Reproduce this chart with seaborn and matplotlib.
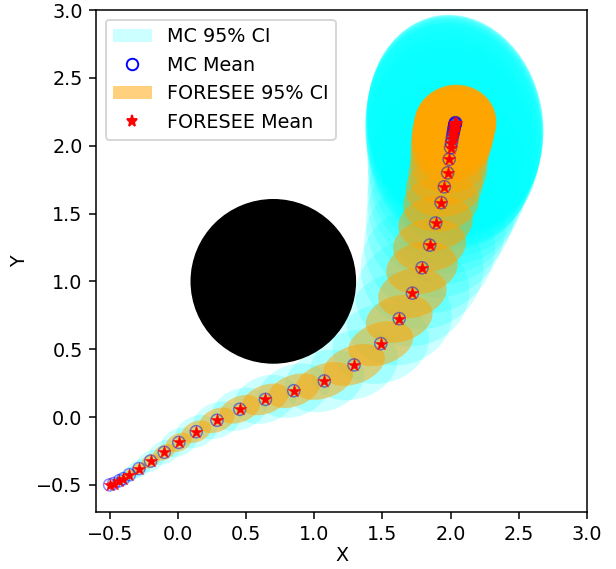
import numpy as np
import pandas as pd
import matplotlib
matplotlib.use("Agg")
import matplotlib.pyplot as plt
from matplotlib.patches import Ellipse, Circle, Patch
from matplotlib.lines import Line2D
import seaborn as sns

# ---- data ----
fs_x = [-0.50, -0.47, -0.43, -0.40, -0.355, -0.285, -0.20, -0.10, 0.007, 0.135,
        0.287, 0.454, 0.642, 0.85, 1.074, 1.292, 1.488, 1.623, 1.72, 1.79,
        1.846, 1.89, 1.93, 1.954, 1.978, 1.99, 2.0, 2.006, 2.011, 2.015, 2.019,
        2.022, 2.025, 2.027, 2.029, 2.031, 2.033, 2.034, 2.035, 2.036]
fs_y = [-0.50, -0.49, -0.47, -0.455, -0.425, -0.38, -0.325, -0.26, -0.187, -0.108,
        -0.024, 0.057, 0.13, 0.194, 0.266, 0.384, 0.541, 0.725, 0.913, 1.10,
        1.267, 1.43, 1.58, 1.697, 1.80, 1.90, 1.985, 2.02, 2.05, 2.075, 2.095,
        2.11, 2.125, 2.135, 2.145, 2.155, 2.16, 2.165, 2.168, 2.17]
mc_x = list(fs_x)
mc_y = list(fs_y)

# FORESEE 95% CI semi-axes
fs_a = [0.01, 0.02, 0.03, 0.04, 0.05, 0.06, 0.07, 0.085, 0.10, 0.115,
        0.135, 0.155, 0.18, 0.20, 0.22, 0.235, 0.245, 0.25, 0.255, 0.265,
        0.27, 0.275, 0.28, 0.285, 0.29, 0.29, 0.295, 0.295, 0.30, 0.30, 0.30,
        0.30, 0.30, 0.30, 0.30, 0.30, 0.30, 0.30, 0.30, 0.30]
fs_b = [0.01, 0.02, 0.025, 0.03, 0.035, 0.04, 0.05, 0.055, 0.065, 0.075,
        0.085, 0.095, 0.105, 0.115, 0.125, 0.14, 0.155, 0.17, 0.18, 0.19,
        0.195, 0.20, 0.21, 0.22, 0.235, 0.25, 0.26, 0.27, 0.275, 0.28, 0.28,
        0.28, 0.28, 0.28, 0.28, 0.28, 0.28, 0.28, 0.28, 0.28]
# MC 95% CI semi-axes
mc_a = [0.015, 0.03, 0.045, 0.06, 0.075, 0.09, 0.105, 0.12, 0.14, 0.16,
        0.185, 0.21, 0.24, 0.27, 0.30, 0.33, 0.36, 0.39, 0.42, 0.45,
        0.48, 0.51, 0.54, 0.56, 0.58, 0.60, 0.61, 0.62, 0.63, 0.635, 0.64,
        0.64, 0.64, 0.64, 0.64, 0.64, 0.64, 0.64, 0.64, 0.64]
mc_b = [0.015, 0.03, 0.04, 0.05, 0.055, 0.065, 0.075, 0.085, 0.10, 0.115,
        0.13, 0.15, 0.17, 0.19, 0.22, 0.25, 0.29, 0.34, 0.39, 0.45,
        0.50, 0.55, 0.60, 0.64, 0.68, 0.72, 0.75, 0.77, 0.79, 0.80, 0.81,
        0.80, 0.80, 0.80, 0.80, 0.80, 0.80, 0.80, 0.80, 0.80]
# ellipse tilt (degrees)
tilt = [30, 30, 30, 30, 30, 28, 27, 26, 25, 24,
        23, 22, 21, 20, 20, 20, 18, 16, 14, 12,
        10, 10, 10, 10, 10, 10, 10, 10, 10, 10, 10,
        10, 10, 10, 10, 10, 10, 10, 10, 10]

obstacle_center = (0.7, 1.0)
obstacle_radius = 0.6

labels = ["MC 95% CI", "MC Mean", "FORESEE 95% CI", "FORESEE Mean"]

DPI = 138
fig = plt.figure(figsize=(616 / DPI, 569 / DPI), dpi=DPI)
ax = fig.add_axes([96 / 616, 57 / 569, (587 - 96) / 616, (512 - 10) / 569])

for x, y, a, b, t in zip(mc_x, mc_y, mc_a, mc_b, tilt):
    ax.add_patch(Ellipse((x, y), 2 * a, 2 * b, angle=t, facecolor="cyan",
                         alpha=0.2, edgecolor="none", zorder=1))
ax.add_patch(Circle(obstacle_center, obstacle_radius, color="black", zorder=2))
for x, y, a, b, t in zip(fs_x, fs_y, fs_a, fs_b, tilt):
    ax.add_patch(Ellipse((x, y), 2 * a, 2 * b, angle=t, facecolor="orange",
                         alpha=0.5, edgecolor="none", zorder=3))

df_mc = pd.DataFrame({"x": mc_x, "y": mc_y})
df_fs = pd.DataFrame({"x": fs_x, "y": fs_y})
sns.scatterplot(data=df_mc, x="x", y="y", ax=ax, marker="o", s=40,
                facecolors="none", edgecolor="blue", linewidth=0.8, alpha=0.45,
                legend=False, zorder=4)
sns.scatterplot(data=df_fs, x="x", y="y", ax=ax, marker="*", s=48,
                color="red", edgecolor="red", linewidth=0.2,
                legend=False, zorder=5)

ax.set_xlim(-0.6, 3.0)
ax.set_ylim(-0.7, 3.0)
ax.set_xticks(np.arange(-0.5, 3.01, 0.5))
ax.set_yticks(np.arange(-0.5, 3.01, 0.5))
ax.set_xlabel("X", labelpad=1)
ax.set_ylabel("Y")

handles = [
    Patch(facecolor="cyan", alpha=0.2, edgecolor="none"),
    Line2D([], [], linestyle="none", marker="o", markerfacecolor="none",
           markeredgecolor="blue", markersize=6),
    Patch(facecolor="orange", alpha=0.5, edgecolor="none"),
    Line2D([], [], linestyle="none", marker="*", color="red", markersize=6),
]
ax.legend(handles, labels, loc="upper left")

fig.savefig("out.png", dpi=DPI)
